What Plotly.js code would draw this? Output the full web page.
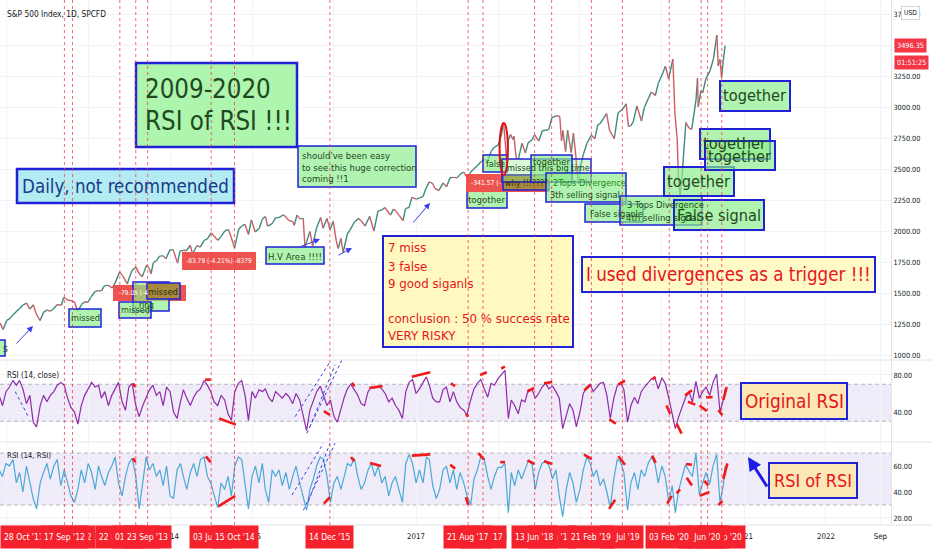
<!DOCTYPE html>
<html><head><meta charset="utf-8">
<script src="https://cdn.plot.ly/plotly-3.0.1.min.js"></script>
<style>html,body{margin:0;padding:0;background:#fff}#chart{width:932px;height:550px}
svg text{font-stretch:condensed}</style>
</head><body><div id="chart"></div>
<script>
// ---------------- DATA ----------------
const priceDates = ['2011-12-05','2011-12-19','2012-01-03','2012-01-17','2012-02-01','2012-02-15','2012-03-01','2012-03-15','2012-04-02','2012-04-16','2012-05-01','2012-05-15','2012-06-01','2012-06-15','2012-07-02','2012-07-16','2012-08-01','2012-08-15','2012-09-04','2012-09-14','2012-10-01','2012-10-15','2012-11-01','2012-11-15','2012-12-03','2012-12-17','2012-12-31','2013-01-15','2013-02-01','2013-02-15','2013-03-01','2013-03-15','2013-04-01','2013-04-18','2013-05-01','2013-05-21','2013-06-03','2013-06-24','2013-07-01','2013-07-15','2013-08-02','2013-08-15','2013-08-30','2013-09-18','2013-10-01','2013-10-08','2013-10-18','2013-11-01','2013-11-15','2013-12-02','2013-12-13','2013-12-31','2014-01-15','2014-02-03','2014-02-14','2014-03-03','2014-03-14','2014-04-01','2014-04-11','2014-05-01','2014-05-15','2014-06-02','2014-06-16','2014-07-03','2014-07-17','2014-08-01','2014-08-15','2014-09-02','2014-09-18','2014-10-01','2014-10-15','2014-11-03','2014-11-17','2014-12-01','2014-12-16','2014-12-29','2015-01-15','2015-02-02','2015-02-17','2015-03-02','2015-03-11','2015-04-01','2015-04-15','2015-05-01','2015-05-21','2015-06-01','2015-06-15','2015-07-01','2015-07-08','2015-07-20','2015-08-03','2015-08-17','2015-08-25','2015-09-01','2015-09-16','2015-09-28','2015-10-15','2015-11-03','2015-11-13','2015-12-01','2015-12-14','2015-12-29','2016-01-11','2016-01-20','2016-02-01','2016-02-11','2016-03-01','2016-03-15','2016-04-01','2016-04-20','2016-05-02','2016-05-19','2016-06-08','2016-06-27','2016-07-15','2016-08-01','2016-08-15','2016-09-09','2016-09-22','2016-10-03','2016-10-17','2016-11-04','2016-11-15','2016-12-01','2016-12-13','2017-01-03','2017-01-17','2017-02-01','2017-02-15','2017-03-01','2017-03-15','2017-03-27','2017-04-13','2017-05-01','2017-05-17','2017-06-01','2017-06-15','2017-07-03','2017-07-17','2017-08-01','2017-08-18','2017-09-01','2017-09-15','2017-10-02','2017-10-16','2017-11-01','2017-11-15','2017-12-01','2017-12-15','2018-01-02','2018-01-16','2018-01-26','2018-02-08','2018-02-15','2018-02-26','2018-03-08','2018-03-13','2018-03-23','2018-04-02','2018-04-18','2018-05-03','2018-05-15','2018-06-01','2018-06-13','2018-07-02','2018-07-17','2018-08-01','2018-08-15','2018-08-29','2018-09-20','2018-10-03','2018-10-11','2018-10-17','2018-10-29','2018-11-07','2018-11-23','2018-12-03','2018-12-14','2018-12-24','2019-01-02','2019-01-15','2019-02-01','2019-02-21','2019-03-08','2019-03-21','2019-04-01','2019-04-15','2019-04-30','2019-05-13','2019-06-03','2019-06-20','2019-07-09','2019-07-26','2019-08-05','2019-08-15','2019-08-26','2019-09-12','2019-10-02','2019-10-15','2019-11-01','2019-11-15','2019-12-03','2019-12-16','2020-01-02','2020-01-17','2020-01-31','2020-02-19','2020-02-28','2020-03-09','2020-03-16','2020-03-23','2020-04-01','2020-04-17','2020-05-01','2020-05-13','2020-06-01','2020-06-08','2020-06-11','2020-06-23','2020-07-01','2020-07-15','2020-08-03','2020-08-18','2020-09-02','2020-09-08','2020-09-16','2020-09-23','2020-10-01','2020-10-09'];
const priceVals = [1257,1205,1277,1293,1324,1350,1374,1402,1419,1370,1405,1330,1278,1342,1365,1353,1375,1405,1404,1465,1444,1440,1427,1353,1409,1430,1426,1472,1513,1519,1518,1560,1562,1541,1582,1669,1640,1573,1614,1682,1709,1661,1632,1725,1695,1655,1744,1761,1798,1800,1775,1848,1848,1741,1838,1845,1841,1885,1815,1883,1870,1924,1937,1985,1958,1925,1955,2002,2011,1946,1862,2017,2041,2053,1972,2090,1992,2020,2100,2117,2040,2059,2106,2108,2131,2111,2084,2077,2046,2128,2098,2102,1867,1913,1996,1881,2023,2109,2023,2102,2012,2078,1923,1859,1940,1829,1978,2015,2073,2102,2081,2040,2119,2000,2161,2170,2190,2128,2177,2161,2126,2085,2180,2191,2271,2258,2268,2279,2349,2396,2385,2341,2328,2388,2357,2430,2433,2429,2459,2476,2425,2476,2500,2529,2557,2579,2564,2642,2675,2695,2776,2872,2581,2731,2779,2738,2765,2588,2582,2708,2629,2711,2734,2775,2726,2809,2813,2818,2914,2930,2925,2728,2809,2641,2813,2632,2790,2599,2380,2510,2610,2706,2774,2743,2854,2867,2907,2946,2812,2744,2954,2980,3026,2844,2848,2878,3009,2887,2996,3067,3120,3093,3191,3258,3330,3226,3386,2954,2747,2386,2290,2470,2875,2830,2820,3055,3232,3002,3131,3115,3227,3294,3390,3580,3332,3385,3237,3380,3496.35];
const lastPrice = 3496.35;

// RSI (14, close) and RSI (14, RSI), one value per half month (1st and 16th), Dec 2011 .. 9 Oct 2020
const rsiClose = [58,47,62,67,74,69,74,65,49,58,29,24,47,58,51,58,62,69,72,69,55,45,40,27,47,58,65,72,67,69,55,62,47,58,65,72,51,42,67,71,47,35,47,55,64,69,58,62,47,67,62,40,33,51,64,55,47,56,62,65,74,69,62,51,47,58,53,38,31,62,71,74,58,31,
 62,55,64,62,65,56,51,62,58,55,60,56,49,60,53,37,20,42,51,62,68,58,47,53,35,29,43,56,65,70,64,58,49,47,62,67,66,68,65,60,51,55,47,42,33,62,72,75,60,65,72,78,69,55,51,51,64,67,51,62,51,45,42,37,53,65,71,75,65,56,71,69,
 76,80,85,33,53,47,38,53,51,64,65,55,60,67,71,65,68,62,55,22,37,49,42,24,40,60,67,70,62,67,71,72,58,33,55,68,72,64,29,47,56,49,62,67,72,76,77,65,77,71,55,38,22,35,45,56,62,51,73,55,62,67,58,72,81,40,53,65];
const rsiOfRsi = [57,52,62,60,65,47,55,40,60,47,35,27,47,55,62,50,60,65,45,57,47,37,32,42,57,47,62,55,42,60,52,45,55,60,67,47,37,52,62,66,52,27,47,67,57,62,52,57,45,60,37,35,57,62,52,42,55,62,52,65,67,52,47,37,28,47,42,52,37,60,67,65,47,27,
 52,60,47,62,42,32,57,52,57,45,55,42,52,60,47,37,26,42,50,60,67,65,52,32,47,52,42,52,62,60,66,52,42,47,57,62,52,60,47,52,37,47,52,42,32,62,69,62,47,57,47,67,65,45,35,42,57,60,47,57,42,55,47,37,30,50,57,67,65,52,42,52,
 59,59,62,24,55,45,57,50,57,64,62,42,55,62,64,60,50,57,37,21,42,55,47,32,42,57,67,62,52,57,45,50,40,28,50,65,63,55,26,47,55,42,57,52,62,67,62,47,60,52,32,45,24,41,52,61,56,52,70,38,47,55,46,60,69,32,45,60];

// divergence lines drawn on the RSI panes: [start date, start value, end date, end value]
const divRsi = [
 ['2013-07-19',70.7,'2013-07-31',67],['2014-06-06',75,'2014-07-01',75],['2014-08-07',33,'2014-10-21',26.4],
 ['2015-11-17',41,'2015-12-14',37],['2016-03-21',71.4,'2016-04-02',68],['2016-06-07',66,'2016-08-04',68],
 ['2016-12-13',78,'2017-03-05',83],['2017-06-05',71,'2017-06-24',68],['2017-08-11',38,'2017-08-21',35],
 ['2017-10-13',80,'2017-11-12',83],['2018-01-15',87,'2018-02-01',89],['2018-05-12',62,'2018-06-11',66],
 ['2018-07-25',71,'2018-08-31',72.5],['2019-01-21',63.5,'2019-02-15',69],['2019-05-12',32,'2019-06-10',27.5],
 ['2019-06-21',69.6,'2019-07-21',74],['2019-11-19',75,'2019-12-04',78],['2020-01-22',47,'2020-02-07',38],
 ['2020-03-07',27.5,'2020-03-29',16.7],['2020-04-14',58,'2020-05-14',63.5],['2020-04-26',51,'2020-05-29',48],
 ['2020-06-17',47,'2020-07-19',41],['2020-07-16',56,'2020-08-14',56],['2020-09-09',42,'2020-09-27',36.5],
 ['2020-10-01',53,'2020-10-16',67]];
const divRsi2 = [
 ['2013-07-19',66,'2013-07-31',63],['2014-06-09',67.5,'2014-07-01',63],['2014-08-04',29,'2014-10-18',37],
 ['2015-11-17',31,'2015-12-14',36],['2016-03-17',67,'2016-03-31',63.7],['2016-06-10',62.4,'2016-07-29',60],
 ['2016-12-13',68,'2017-03-05',69],['2017-06-02',61,'2017-06-24',58],['2017-08-11',36,'2017-08-21',30],
 ['2017-10-06',70,'2017-10-31',65],['2018-01-11',63,'2018-02-01',63],['2018-05-12',64.4,'2018-06-11',61.6],
 ['2018-07-25',63.7,'2018-08-31',61.6],['2019-01-19',68.7,'2019-02-23',65.4],['2019-05-11',27,'2019-06-07',34],
 ['2019-06-21',67.5,'2019-07-21',61],['2019-11-19',68,'2019-12-04',62.4],['2020-01-25',31,'2020-02-14',37],
 ['2020-03-07',39,'2020-03-22',42],['2020-04-18',61.6,'2020-05-14',61],['2020-04-21',51,'2020-05-14',45],
 ['2020-06-17',37,'2020-07-31',40],['2020-07-08',48.5,'2020-07-26',45],['2020-09-09',30,'2020-09-27',33],
 ['2020-10-01',50,'2020-10-19',62]];
const trendRsi = [['2012-02-11',62,'2012-04-09',35],['2015-07-12',35,'2015-12-14',94],['2015-09-02',17,'2016-02-05',96],['2015-09-16',24,'2016-01-06',91]];
const trendRsi2 = [['2015-06-28',37.7,'2015-11-15',77.5],['2015-08-18',26,'2016-01-06',77.5],['2015-09-09',32.5,'2015-12-14',77.5]];

// signal dates (red dashed verticals) and their axis labels
const signalDates = ['2012-09-17','2012-10-23','2013-05-22','2013-08-01','2013-09-23','2014-07-03','2014-10-15','2015-12-14','2017-08-21','2017-10-26','2018-06-13','2018-08-28','2019-02-21','2019-07-09','2020-02-03','2020-06-24','2020-07-23','2020-09-24'];
const dateLabels = [['2012-10-23',"23 Oct '12"],['2012-09-17',"17 Sep '12"],['2013-05-22',"22 May '13"],['2013-08-01',"01 Aug '13"],['2013-09-23',"23 Sep '13"],['2014-07-03',"03 Jul '14"],['2014-10-15',"15 Oct '14"],['2015-12-14',"14 Dec '15"],['2017-10-26',"26 Oct '17"],['2017-08-21',"21 Aug '17"],['2018-08-28',"28 Aug '18"],['2019-07-09',"09 Jul '19"],['2018-06-13',"13 Jun '18"],['2019-02-21',"21 Feb '19"],['2020-07-23',"23 Jul '20"],['2020-09-24',"24 Sep '20"],['2020-06-24',"24 Jun '20"],['2020-02-03',"03 Feb '20"]];

const yearTickVals = ['2012-01-01','2013-01-01','2014-01-01','2015-01-01','2016-01-01','2017-01-01','2018-01-01','2019-01-01','2020-01-01','2021-01-01','2022-01-01','2022-09-01'];
const yearTickText = ['2012','2013','2014','2015','2016','2017','2018','2019','2020','2021','2022','Sep'];
const priceTicks = [1000,1250,1500,1750,2000,2250,2500,2750,3000,3250,3500,3750];
const rsiTicks = [40,80];
const rsi2Ticks = [20,40,60];

// ---------------- BUILD ----------------
const rsiDates = ['2011-12-01','2011-12-16'];
for (let y = 2012; y <= 2020; y++) {
  for (let m = 1; m <= 12; m++) {
    if (y === 2020 && m > 9) break;
    const mm = String(m).padStart(2,'0');
    rsiDates.push(y+'-'+mm+'-01', y+'-'+mm+'-16');
  }
}
rsiDates.push('2020-10-01','2020-10-09');

const FONT = '"DejaVu Sans", sans-serif';
const meas = document.createElement('span');
meas.style.cssText = 'position:absolute;left:-9999px;top:0;visibility:hidden;white-space:pre;font-size:100px;font-stretch:condensed;font-family:'+FONT;
document.body.appendChild(meas);
function fit(s, w, max){ meas.textContent = s; const mw = meas.getBoundingClientRect().width || 1; return Math.min(max, 100 * w / mw); }

const W = 891, H = 525;
const px = x => x / W, py = y => 1 - y / H;
const BLUE = '#1f22d6', DG = '#1f4a1f', RED = '#e8141b';
const G = 'rgba(140,238,140,0.68)';

const up = {x:[],y:[]}, dn = {x:[],y:[]};
for (let i = 1; i < priceVals.length; i++) {
  const t = priceVals[i] >= priceVals[i-1] ? up : dn;
  t.x.push(priceDates[i-1], priceDates[i], null);
  t.y.push(priceVals[i-1], priceVals[i], null);
}
function segs(list){ const x=[],y=[]; list.forEach(s=>{x.push(s[0],s[2],null);y.push(s[1],s[3],null);}); return {x,y}; }
const d1 = segs(divRsi), d2 = segs(divRsi2), b1 = segs(trendRsi), b2 = segs(trendRsi2);

const traces = [
  {x:up.x,y:up.y,type:'scatter',mode:'lines',line:{color:'#3f8a7c',width:1.4},yaxis:'y',hoverinfo:'skip'},
  {x:dn.x,y:dn.y,type:'scatter',mode:'lines',line:{color:'#d05c62',width:1.4},yaxis:'y',hoverinfo:'skip'},
  {x:rsiDates,y:rsiClose,type:'scatter',mode:'lines',line:{color:'#8e2ba8',width:1.2},yaxis:'y2'},
  {x:rsiDates,y:rsiOfRsi,type:'scatter',mode:'lines',line:{color:'#4aa9d6',width:1.2},yaxis:'y3'},
  {x:b1.x,y:b1.y,type:'scatter',mode:'lines',line:{color:'#3b3be0',width:1,dash:'3px,3px'},yaxis:'y2'},
  {x:b2.x,y:b2.y,type:'scatter',mode:'lines',line:{color:'#3b3be0',width:1,dash:'3px,3px'},yaxis:'y3'},
  {x:d1.x,y:d1.y,type:'scatter',mode:'lines',line:{color:'#f01a1a',width:2.6},yaxis:'y2'},
  {x:d2.x,y:d2.y,type:'scatter',mode:'lines',line:{color:'#f01a1a',width:2.6},yaxis:'y3'}
];

const shapes = [];
['y2','y3'].forEach(ya=>{
  shapes.push({type:'rect',xref:'paper',yref:ya,x0:0,x1:1,y0:30,y1:70,fillcolor:'rgba(126,87,194,0.12)',line:{width:0},layer:'below'});
  [30,70].forEach(v=>shapes.push({type:'line',xref:'paper',yref:ya,x0:0,x1:1,y0:v,y1:v,line:{color:'#b4b7c0',width:1,dash:'4px,3px'},layer:'below'}));
});
[360,442,525].forEach(y=>shapes.push({type:'line',xref:'paper',yref:'paper',x0:0,x1:1.046,y0:py(y),y1:py(y),line:{color:'#e0e3eb',width:1}}));
shapes.push({type:'line',xref:'paper',yref:'y',x0:0,x1:1,y0:lastPrice,y1:lastPrice,line:{color:'rgba(242,54,69,0.35)',width:1},layer:'below'});

// annotation boxes [x0,y0,x1,y1,fill,borderwidth]
const boxes = [
 [136,63,297,147,'#aef5ae',2.5],[17,169,234,203,'#b2ebf2',2.5],[298,146,416,187,G,1.5],[266,247,324,264,G,1.5],
 [182,252,256,270,'#ef5350',0],[113,285,186,301,'#ef5350',0],[133,282,169,311,G,1.5],[147,283,180,299,'#a88a3c',1.5],
 [119,302,151,318,G,1.5],[69,309,101,327,G,1.5],[-20,340,5,356,G,1.5],[383,236,573,347,'#fff9c0',2],
 [483,155,507,172,G,1.5],[467,190,507,208,G,1.5],[466,174,549,192,'#ef5350',0],[503,175,549,190,'#a88a3c',1.5],
 [502,159,591,182,'rgba(140,238,140,0.35)',1.5],[531,155,572,182,G,1.5],[546,173,626,202,G,1.5],[585,204,643,222,G,1.5],
 [620,196,702,225,G,1.5],[674,200,764,230,G,2],[664,167,734,196,G,2],[700,129,770,159,G,2],[705,141,775,170,G,2],
 [720,81,790,111,G,2],[582,257,875,292,'#fffac8',2],[741,383,847,419,'#fbe8b5',2],[769,463,857,498,'#fbe8b5',2]
];
boxes.forEach(b=>shapes.push({type:'rect',xref:'paper',yref:'paper',x0:px(b[0]),x1:px(b[2]),y0:py(b[3]),y1:py(b[1]),
  fillcolor:b[4],line:{color:BLUE,width:b[5]},layer:'above'}));
shapes.push({type:'circle',xref:'x',yref:'y',x0:'2018-01-08',x1:'2018-02-14',y0:2452,y1:2871,line:{color:'#e01010',width:2},layer:'above'});
signalDates.forEach(d=>shapes.push({type:'line',xref:'x',yref:'paper',x0:d,x1:d,y0:0,y1:1,line:{color:'rgba(242,54,69,0.75)',width:1,dash:'3px,3px'},layer:'above'}));

const ann = [];
// txt(x, y, text, target width px, max font size, colour, anchor)
function txt(x,y,s,w,max,color,xa){ ann.push({xref:'paper',yref:'paper',x:px(x),y:py(y),text:s,showarrow:false,xanchor:xa||'center',yanchor:'middle',font:{family:FONT,size:fit(s,w,max),color:color}}); }
function txtS(x,y,s,size,color,xa){ ann.push({xref:'paper',yref:'paper',x:px(x),y:py(y),text:s,showarrow:false,xanchor:xa||'center',yanchor:'middle',font:{family:FONT,size:size,color:color}}); }
txt(5,14,'S&P 500 Index, 1D, SPCFD',99,11,'#131722','left');
const bigS = Math.min(fit('2009-2020',130,34), fit('RSI of RSI !!!',147,34));
txtS(143,89,'2009-2020',bigS,DG,'left'); txtS(143,121,'RSI of RSI !!!',bigS,DG,'left');
txt(125,186,'Daily, not recommended',207,24,'#1a3a8a');
const shS = fit('to see this huge correction',115,11.5);
txtS(300,155,"should've been easy",shS,DG,'left'); txtS(300,167,'to see this huge correction',shS,DG,'left'); txtS(300,179,'coming !!1',shS,DG,'left');
txt(295,256,'H.V Area !!!!',54,11.5,DG);
txt(219,261,'-83.79 (-4.21%) -8379',66,10,'#ffffff');
txt(117,293,'-79.05 (-4',29,10,'#ffffff','left');
txt(137,305,'ring',15,11.5,DG,'left');
txt(163,291,'missed',30,11.5,'#2a2a10'); txt(135,310,'missed',29,11.5,DG); txt(85,318,'missed',29,11.5,DG); txt(1,348,'s',5,11.5,DG,'left');
const yS = fit('conclusion : 50 % success rate',182,15.5);
[['7 miss',248],['3 false',266],['9 good siganls',283],['conclusion : 50 % success rate',318],['VERY RISKY',335]].forEach(l=>txtS(386,l[1],l[0],yS,RED,'left'));
txt(495,164,'false',19,12,DG); txt(487,199,'togother',37,12,DG);
txt(469,183,'-341.57 (-',30,10,'#ffffff','left'); txt(526,183,'why !!!????',43,12,'#2a2a10');
txt(505,168,'missed this big time',83,12,DG,'left'); txt(551,162,'together',37,12,DG);
txt(551,183,'2Tops Divergence',73,12,'#1a8a1a','left'); txt(548,195,'3th selling signal',70,12,DG,'left');
txt(588,213,'False siganle',53,12,DG,'left');
txt(625,204,'3 Tops Divergence',77,12,DG,'left'); txt(624,217,'4th selling signal',73,12,DG,'left');
const tgS = fit('together',63,23);
txt(719,215,'False signal',84,23,DG); txtS(699,181,'together',tgS,DG); txtS(735,144,'together',tgS,DG);
txtS(740,156,'together',tgS,DG); txtS(755,96,'together',tgS,DG);
txt(728,274,'I used divergences as a trigger !!!',285,24,RED);
txt(794,401,'Original RSI',99,23,RED); txt(813,480,'RSI of RSI',78,23,RED);
txt(5,375,'RSI (14, close)',52,11,'#131722','left'); txt(5,455,'RSI (14, RSI)',44,11,'#131722','left');

[[15,345,33,326,1],[297,248,320,239,1],[337,256,352,248,1],[412,224,430,203,1],[768,488,748,457,3]].forEach(a=>ann.push({
  xref:'paper',yref:'paper',x:px(a[2]),y:py(a[3]),ax:a[0]-a[2],ay:a[1]-a[3],text:'',showarrow:true,
  arrowhead:2,arrowsize:a[4]>1?0.9:1.2,arrowwidth:a[4],arrowcolor:a[4]>1?'#1c1ce6':'#3b3bea'}));

const tickS = fit('1000.00',27,10.5);
const rightLbl = {family:FONT,size:tickS,color:'#fff'};
ann.push({xref:'paper',yref:'y',x:1.003,y:lastPrice,xanchor:'left',yanchor:'middle',text:'3496.35',showarrow:false,bgcolor:'#f23645',borderpad:2,font:rightLbl});
ann.push({xref:'paper',yref:'paper',x:1.003,y:py(62),xanchor:'left',yanchor:'middle',text:'01:51:25',showarrow:false,bgcolor:'#f23645',borderpad:2,font:rightLbl});
ann.push({xref:'paper',yref:'paper',x:px(911),y:py(13),xanchor:'center',yanchor:'middle',text:'USD',showarrow:false,bgcolor:'#fff',bordercolor:'#d1d4dc',borderwidth:1,borderpad:2,font:{family:FONT,size:fit('USD',13,9),color:'#131722'}});

const dlS = fit("17 Sep '12",41,10.5);
const dlFont = {family:FONT,size:dlS,color:'#fff'};
ann.push({xref:'paper',yref:'paper',x:0,y:py(537),xanchor:'left',yanchor:'middle',text:"28 Oct '11",showarrow:false,bgcolor:'#f5222d',borderpad:3,height:16,font:dlFont});
dateLabels.forEach(l=>ann.push({xref:'x',yref:'paper',x:l[0],y:py(537),xanchor:'center',yanchor:'middle',text:l[1],showarrow:false,bgcolor:'#f5222d',borderpad:3,height:16,font:dlFont}));

const axFont = {family:FONT,size:tickS,color:'#131722'};
const layout = {
  width:932,height:550,margin:{l:0,r:41,t:0,b:25},paper_bgcolor:'#fff',plot_bgcolor:'#fff',showlegend:false,hovermode:false,
  xaxis:{type:'date',range:['2011-12-05','2022-10-18'],anchor:'y3',tickvals:yearTickVals,ticktext:yearTickText,tickfont:{family:FONT,size:fit('2017',18,11.5),color:'#131722'},
    ticklabelstandoff:5,showgrid:true,gridcolor:'#f2f3f6',zeroline:false,showline:false,ticks:''},
  yaxis:{domain:[1-360/H,1],range:[960,3863],side:'right',anchor:'x',tickvals:priceTicks,tickformat:'.2f',tickfont:axFont,gridcolor:'#f2f3f6',zeroline:false,showline:true,linecolor:'#e0e3eb'},
  yaxis2:{domain:[1-442/H,1-360/H],range:[7.6,96.2],side:'right',anchor:'x',tickvals:rsiTicks,tickformat:'.2f',tickfont:axFont,gridcolor:'#f2f3f6',zeroline:false,showline:true,linecolor:'#e0e3eb'},
  yaxis3:{domain:[0,1-442/H],range:[14.6,78.5],side:'right',anchor:'x',tickvals:rsi2Ticks,tickformat:'.2f',tickfont:axFont,gridcolor:'#f2f3f6',zeroline:false,showline:true,linecolor:'#e0e3eb'},
  shapes:shapes,annotations:ann
};
Plotly.newPlot('chart',traces,layout,{displayModeBar:false,staticPlot:true});
</script></body></html>
